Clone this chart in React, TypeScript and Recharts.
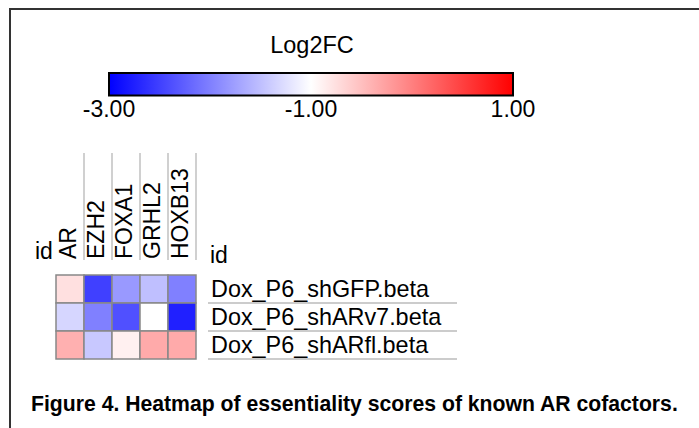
import React from 'react';
import { BarChart, Bar, XAxis, YAxis, ScatterChart, Scatter } from 'recharts';

// ---- data ----
const genes = ['AR', 'EZH2', 'FOXA1', 'GRHL2', 'HOXB13'];
const samples = ['Dox_P6_shGFP.beta', 'Dox_P6_shARv7.beta', 'Dox_P6_shARfl.beta'];
const shGFP = [-0.76, -2.5, -1.8, -1.5, -2.0];
const shARv7 = [-1.32, -2.0, -2.37, -1.0, -2.75];
const shARfl = [-0.38, -1.43, -0.88, -0.33, -0.33];
const seriesValues = [shGFP, shARv7, shARfl];
const scaleTicks = [-3, -1, 1];
const colorStops = [
  { v: -3, c: [0, 0, 255] },
  { v: -1, c: [255, 255, 255] },
  { v: 1, c: [255, 0, 0] },
];
const legendTitle = 'Log2FC';
const caption = 'Figure 4. Heatmap of essentiality scores of known AR cofactors.';

const FONT = '"Liberation Sans", Arial, Helvetica, sans-serif';
const W = 699;
const H = 428;

const cells = samples.flatMap((s, i) => genes.map((g, j) => ({ sample: s, gene: g, value: seriesValues[i][j] })));
const scaleData = [{ name: 'scale', range: [scaleTicks[0], scaleTicks[scaleTicks.length - 1]] }];

function colorFor(v: number): string {
  const lo = colorStops[0].v;
  const hi = colorStops[colorStops.length - 1].v;
  const x = Math.max(lo, Math.min(hi, v));
  for (let k = 0; k < colorStops.length - 1; k++) {
    const a = colorStops[k];
    const b = colorStops[k + 1];
    if (x >= a.v && x <= b.v) {
      const t = (x - a.v) / (b.v - a.v);
      const c = a.c.map((ch, i) => Math.round(ch + (b.c[i] - ch) * t));
      return `rgb(${c[0]},${c[1]},${c[2]})`;
    }
  }
  return '#fff';
}

const toHex = (c: number[]) => `rgb(${c[0]},${c[1]},${c[2]})`;

// heatmap geometry
const PL = 56, PR = 196, PT = 275, PB = 359;
const CELL_W = (PR - PL) / genes.length;
const CELL_H = (PB - PT) / samples.length;

const CellShape = (props: any) => {
  const { cx, cy, payload } = props;
  return (
    <rect
      x={cx - CELL_W / 2}
      y={cy - CELL_H / 2}
      width={CELL_W}
      height={CELL_H}
      fill={colorFor(payload.value)}
      stroke="#888"
      strokeWidth={1.5}
    />
  );
};

const GeneTick = (props: any) => {
  const { x, y, payload } = props;
  return (
    <g>
      <line x1={x + CELL_W / 2} x2={x + CELL_W / 2} y1={153} y2={y + 1} stroke="#c0c0c0" strokeWidth={1.5} />
      <text
        transform={`translate(${x + 5.5},${y}) rotate(-90)`}
        textAnchor="start"
        fontSize={23}
        fontFamily={FONT}
        fill="#000"
      >
        {payload.value}
      </text>
    </g>
  );
};

const SampleTick = (props: any) => {
  const { x, y, payload } = props;
  return (
    <g>
      <text x={x} y={y + 8} textAnchor="start" fontSize={23.4} fontFamily={FONT} fill="#000">
        {payload.value}
      </text>
      <line x1={x - 3} x2={x + 246} y1={y + CELL_H / 2} y2={y + CELL_H / 2} stroke="#999" strokeWidth={1} />
    </g>
  );
};

export default function App() {
  const gradStops = colorStops.map((s) => ({
    offset: ((s.v - colorStops[0].v) / (colorStops[colorStops.length - 1].v - colorStops[0].v)) * 100,
    color: toHex(s.c),
  }));
  return (
    <div style={{ position: 'absolute', left: 0, top: 0, width: W, height: H, background: '#fff', fontFamily: FONT, overflow: 'hidden' }}>
      {/* colour scale */}
      <div style={{ position: 'absolute', left: 0, top: 0 }}>
        <BarChart
          width={W}
          height={127}
          data={scaleData}
          layout="vertical"
          margin={{ top: 72, right: W - 513, bottom: 0, left: 109 }}
          barCategoryGap={0}
        >
          <defs>
            <linearGradient id="scaleGrad" x1="0" y1="0" x2="1" y2="0">
              {gradStops.map((s) => (
                <stop key={s.offset} offset={`${s.offset}%`} stopColor={s.color} />
              ))}
            </linearGradient>
          </defs>
          <XAxis
            type="number"
            domain={[scaleTicks[0], scaleTicks[scaleTicks.length - 1]]}
            ticks={scaleTicks}
            tickFormatter={(v: number) => v.toFixed(2)}
            axisLine={false}
            tickLine={false}
            tickSize={0}
            tickMargin={4}
            height={30}
            interval={0}
            tick={{ fontSize: 23, fill: '#000', fontFamily: FONT }}
          />
          <YAxis type="category" dataKey="name" hide />
          <Bar dataKey="range" fill="url(#scaleGrad)" stroke="#000" strokeWidth={2} barSize={25} isAnimationActive={false} />
        </BarChart>
      </div>

      {/* heatmap */}
      <div style={{ position: 'absolute', left: 0, top: 0 }}>
        <ScatterChart width={W} height={H} margin={{ top: PT - 120, right: W - PR - 260, bottom: H - PB, left: PL }}>
          <XAxis
            type="category"
            dataKey="gene"
            orientation="top"
            allowDuplicatedCategory={false}
            height={120}
            axisLine={false}
            tickLine={false}
            tickSize={0}
            tickMargin={16}
            interval={0}
            tick={<GeneTick />}
          />
          <YAxis
            type="category"
            dataKey="sample"
            orientation="right"
            allowDuplicatedCategory={false}
            reversed
            width={260}
            axisLine={false}
            tickLine={false}
            tickSize={0}
            tickMargin={15}
            interval={0}
            tick={<SampleTick />}
          />
          <Scatter data={cells} shape={<CellShape />} isAnimationActive={false} />
        </ScatterChart>
      </div>

      {/* decorations */}
      <svg width={W} height={H} style={{ position: 'absolute', left: 0, top: 0, pointerEvents: 'none' }}>
        <line x1={10} x2={10} y1={8} y2={H} stroke="#333" strokeWidth={2} />
        <line x1={9} x2={W} y1={9} y2={9} stroke="#333" strokeWidth={2} />
        <text x={312} y={53} textAnchor="middle" fontSize={23.5} fontFamily={FONT} fill="#000">{legendTitle}</text>
        <text x={35} y={259} fontSize={23} fontFamily={FONT} fill="#000">id</text>
        <text x={210} y={263} fontSize={23} fontFamily={FONT} fill="#000">id</text>
        <text x={31} y={411} fontSize={21.2} fontWeight="bold" fontFamily={FONT} fill="#000">{caption}</text>
      </svg>
    </div>
  );
}
